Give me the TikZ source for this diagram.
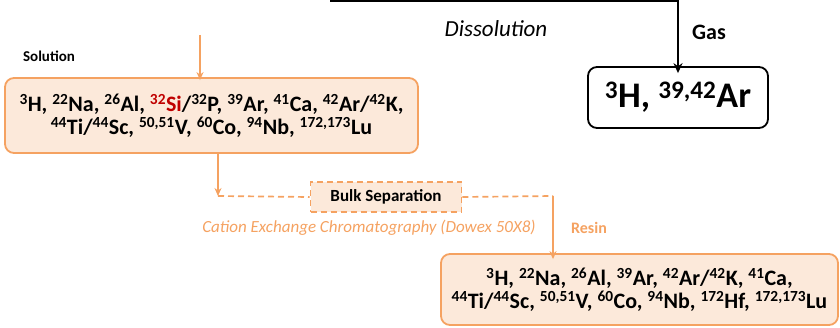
\documentclass[tikz,border=0pt]{standalone}
\usepackage{fontspec}
\setmainfont{Carlito}
\usetikzlibrary{arrows.meta}
\definecolor{sepline}{HTML}{F5A261}
\definecolor{sepfill}{HTML}{FCE9DA}
\definecolor{sired}{HTML}{C00000}
\newcommand{\iso}[2]{\textsuperscript{#1}#2}

\begin{document}
\begin{tikzpicture}[x=1pt,y=-1pt,
    isobox/.style={draw=sepline,fill=sepfill,line width=1.8pt,rounded corners=9pt,align=center,
        font=\bfseries\fontsize{22}{23}\selectfont,inner sep=0pt},
    gasline/.style={line width=1.9pt,-{Stealth[length=10pt,width=9pt]}},
    orline/.style={draw=sepline,line width=1.7pt},
    ordash/.style={dash pattern=on 6pt off 4pt},
    ortip/.style={-{Stealth[length=8pt,width=7pt]}}]
    \useasboundingbox (0,0) rectangle (840,328);

    \node[isobox,minimum width=413,minimum height=75] (sol) at (211.5,115.5)
        {\iso{3}{H}, \iso{22}{Na}, \iso{26}{Al}, \textcolor{sired}{\iso{32}{Si}}/\iso{32}{P}, \iso{39}{Ar}, \iso{41}{Ca}, \iso{42}{Ar}/\iso{42}{K},\\
         \iso{44}{Ti}/\iso{44}{Sc}, \iso{50,51}{V}, \iso{60}{Co}, \iso{94}{Nb}, \iso{172,173}{Lu}};
    \node[isobox,draw=black,fill=white,minimum width=180,minimum height=61,
        font=\bfseries\fontsize{36}{38}\selectfont] (gas) at (678,97.5) {\iso{3}{H}, \iso{39,42}{Ar}};
    \node[isobox,ordash,rounded corners=0pt,minimum width=151,minimum height=30,
        font=\bfseries\fontsize{17}{19}\selectfont] (bulk) at (386,197) {Bulk Separation};
    \node[isobox,minimum width=397,minimum height=71] (res) at (639.5,289.5)
        {\iso{3}{H}, \iso{22}{Na}, \iso{26}{Al}, \iso{39}{Ar}, \iso{42}{Ar}/\iso{42}{K}, \iso{41}{Ca},\\
         \iso{44}{Ti}/\iso{44}{Sc}, \iso{50,51}{V}, \iso{60}{Co}, \iso{94}{Nb}, \iso{172}{Hf}, \iso{172,173}{Lu}};

    \node[font=\bfseries\fontsize{15}{17}\selectfont] (soltxt) at (49,56) {Solution};
    \node[font=\itshape\fontsize{23}{25}\selectfont] (diss) at (496,29) {Dissolution};
    \node[font=\bfseries\fontsize{22}{24}\selectfont] (gastxt) at (709,32) {Gas};
    \node[font=\itshape\fontsize{17}{19}\selectfont,text=sepline] (cat) at (369,228)
        {Cation Exchange Chromatography (Dowex 50X8)};
    \node[font=\bfseries\fontsize{16}{18}\selectfont,text=sepline] (restxt) at (589,228) {Resin};

    \coordinate (top) at (330,1);
    \coordinate (solin) at (200,35);
    \coordinate (down) at (218,196);
    \coordinate (over) at (553,196);

    \draw[gasline] (top) -- (top -| gas) -- ([yshift=-7pt]gas.north);
    \draw[orline,ortip] (solin) -- ([yshift=-3pt]solin |- sol.north);
    \draw[orline,ortip] (down |- sol.south) -- (down);
    \draw[orline,ordash] (down) -- (bulk.west);
    \draw[orline,ordash] (bulk.east) -- (over);
    \draw[orline,ortip] (over) -- ([yshift=-6pt]over |- res.north);
\end{tikzpicture}
\end{document}
